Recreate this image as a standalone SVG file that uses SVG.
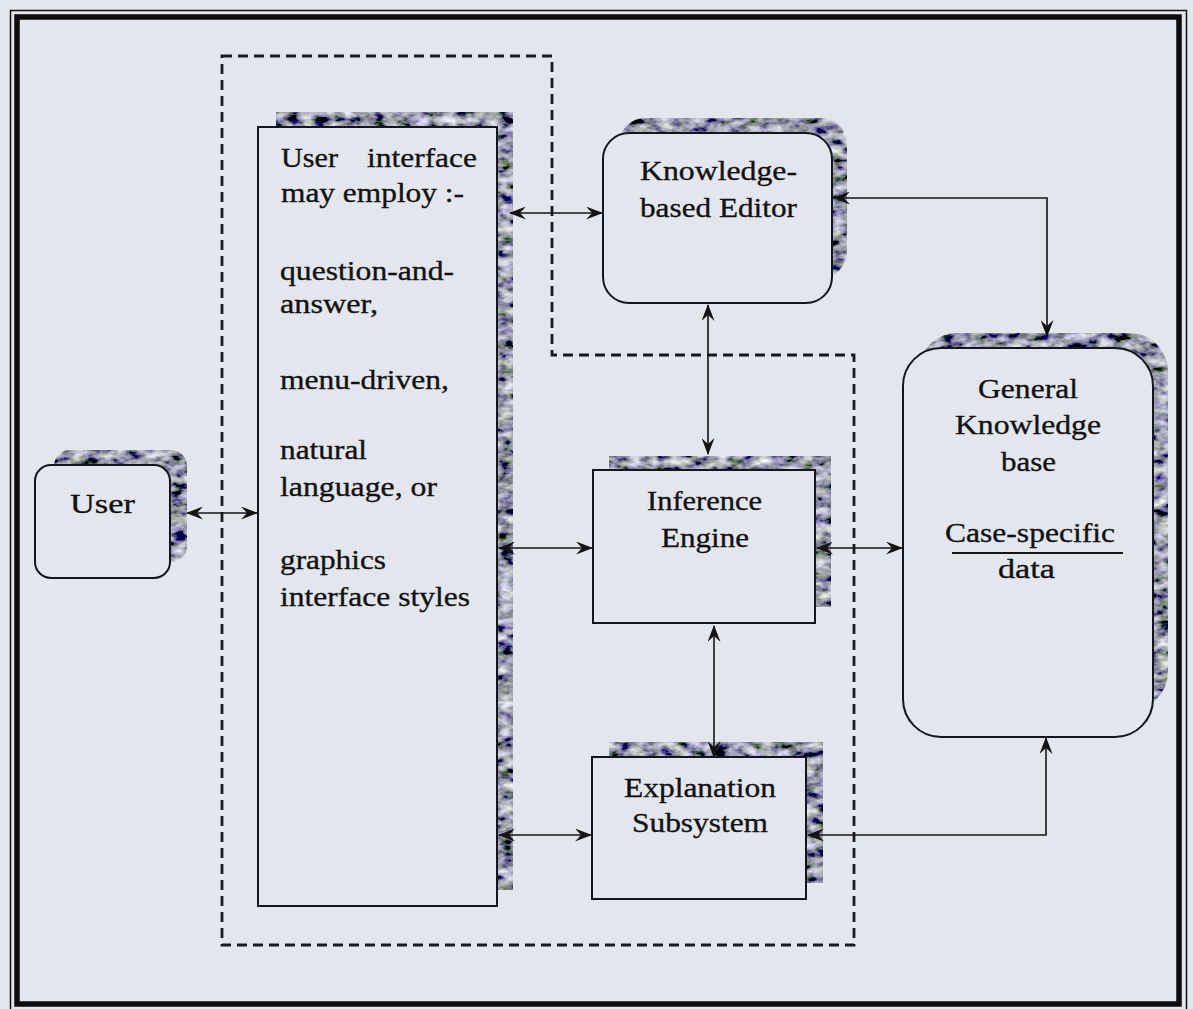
<svg xmlns="http://www.w3.org/2000/svg" width="1193" height="1009" viewBox="0 0 1193 1009">
  <defs>
    <style>
      .bg { fill: #e4e6ee; }
      .box { fill: #e4e6ee; stroke: #15151f; stroke-width: 2; }
      .shadow { fill: #5a5a64; filter: url(#grain); }
      .lbl { font-family: "Liberation Serif", "Times New Roman", serif; font-size: 28px; fill: #121212; stroke: #121212; stroke-width: 0.35; }
      .mid { text-anchor: middle; }
      .link { fill: none; stroke: #141414; stroke-width: 1.6; marker-start: url(#arrow); marker-end: url(#arrow); }
      .boundary { fill: none; stroke: #1a1a22; stroke-width: 2.8; stroke-dasharray: 10 6; }
    </style>
    <!-- barbed arrowhead used at both ends of every connector -->
    <marker id="arrow" viewBox="0 0 17 13" refX="16" refY="6.5" markerWidth="17" markerHeight="13" markerUnits="userSpaceOnUse" orient="auto-start-reverse">
      <path d="M0,0 L17,6.5 L0,13 L6,6.5 Z" fill="#141414"/>
    </marker>
    <!-- mottled grey texture for the offset drop shadows -->
    <filter id="grain" x="0" y="0" width="100%" height="100%">
      <feTurbulence type="fractalNoise" baseFrequency="0.07 0.12" numOctaves="3" seed="11" result="noise"/>
      <feColorMatrix in="noise" type="matrix" values="1.5 0.25 0 0 -0.56  1.5 0.35 -0.1 0 -0.55  1.5 0 0.3 0 -0.5  0 0 0 0 1" result="tint"/>
      <feComposite in="tint" in2="SourceGraphic" operator="in"/>
    </filter>
  </defs>

  <!-- paper -->
  <rect class="bg" x="0" y="0" width="1193" height="1009"/>

  <!-- double page frame -->
  <path d="M10.5,1012 V10.5 H1186.5 V1012" fill="none" stroke="#111" stroke-width="1.5"/>
  <rect x="17" y="17" width="1162" height="987" fill="none" stroke="#0c0c0c" stroke-width="5.5"/>

  <!-- dashed system boundary -->
  <g id="boundary">
    <path class="boundary" d="M222,56 H552 V355 H854 V945 H222 Z"/>
  </g>

  <g id="user">
    <rect class="shadow" x="54" y="450" width="133" height="112" rx="16"/>
    <rect class="box" x="35" y="465" width="135" height="113" rx="16"/>
    <text class="lbl mid" x="102.5" y="513" font-size="34" textLength="65" lengthAdjust="spacingAndGlyphs">User</text>
  </g>

  <g id="user-interface">
    <rect class="shadow" x="276" y="112" width="237" height="778"/>
    <rect class="box" x="258" y="127" width="239" height="779"/>
    <text class="lbl" x="281" y="167" textLength="57" lengthAdjust="spacingAndGlyphs">User</text>
    <text class="lbl" x="367" y="167" textLength="110" lengthAdjust="spacingAndGlyphs">interface</text>
    <text class="lbl" x="281" y="202" textLength="183" lengthAdjust="spacingAndGlyphs">may employ :-</text>
    <text class="lbl" x="280" y="280" textLength="174" lengthAdjust="spacingAndGlyphs">question-and-</text>
    <text class="lbl" x="280" y="313" textLength="98" lengthAdjust="spacingAndGlyphs">answer,</text>
    <text class="lbl" x="280" y="389" textLength="169" lengthAdjust="spacingAndGlyphs">menu-driven,</text>
    <text class="lbl" x="280" y="459" textLength="87" lengthAdjust="spacingAndGlyphs">natural</text>
    <text class="lbl" x="280" y="496" textLength="157" lengthAdjust="spacingAndGlyphs">language, or</text>
    <text class="lbl" x="280" y="569" textLength="106" lengthAdjust="spacingAndGlyphs">graphics</text>
    <text class="lbl" x="280" y="606" textLength="190" lengthAdjust="spacingAndGlyphs">interface styles</text>
  </g>

  <g id="knowledge-editor">
    <rect class="shadow" x="619" y="118" width="228" height="160" rx="26"/>
    <rect class="box" x="603" y="133" width="229" height="170" rx="26"/>
    <text class="lbl mid" x="718.5" y="180" textLength="157" lengthAdjust="spacingAndGlyphs">Knowledge-</text>
    <text class="lbl mid" x="718.5" y="217" textLength="157" lengthAdjust="spacingAndGlyphs">based Editor</text>
  </g>

  <g id="inference-engine">
    <rect class="shadow" x="609" y="456" width="222" height="151"/>
    <rect class="box" x="593" y="470" width="222" height="153"/>
    <text class="lbl mid" x="704.5" y="510" textLength="115" lengthAdjust="spacingAndGlyphs">Inference</text>
    <text class="lbl mid" x="705" y="547" textLength="88" lengthAdjust="spacingAndGlyphs">Engine</text>
  </g>

  <g id="explanation-subsystem">
    <rect class="shadow" x="609" y="742" width="214" height="141"/>
    <rect class="box" x="592" y="757" width="214" height="142"/>
    <text class="lbl mid" x="700" y="797" textLength="152" lengthAdjust="spacingAndGlyphs">Explanation</text>
    <text class="lbl mid" x="700" y="832" textLength="136" lengthAdjust="spacingAndGlyphs">Subsystem</text>
  </g>

  <g id="knowledge-base">
    <rect class="shadow" x="919" y="333" width="249" height="377" rx="38"/>
    <rect class="box" x="903" y="348" width="250" height="389" rx="38"/>
    <text class="lbl mid" x="1028" y="398" textLength="100" lengthAdjust="spacingAndGlyphs">General</text>
    <text class="lbl mid" x="1028" y="434" textLength="146" lengthAdjust="spacingAndGlyphs">Knowledge</text>
    <text class="lbl mid" x="1028.5" y="471" textLength="55" lengthAdjust="spacingAndGlyphs">base</text>
    <text class="lbl mid" x="1030" y="542" textLength="170" lengthAdjust="spacingAndGlyphs">Case-specific</text>
    <line x1="952" y1="553" x2="1123" y2="553" stroke="#151515" stroke-width="2"/>
    <text class="lbl mid" x="1026.5" y="578" textLength="57" lengthAdjust="spacingAndGlyphs">data</text>
  </g>

  <!-- two-way connectors -->
  <g id="connectors">
    <path class="link" d="M187,513 H257"/>
    <path class="link" d="M510,213 H602"/>
    <path class="link" d="M499,548 H592"/>
    <path class="link" d="M499,835 H591"/>
    <path class="link" d="M708,305 V454"/>
    <path class="link" d="M714,626 V757"/>
    <path class="link" d="M817,548 H902"/>
    <path class="link" d="M834,198 H1047 V336"/>
    <path class="link" d="M1046,738 V835 H808"/>
  </g>
</svg>
